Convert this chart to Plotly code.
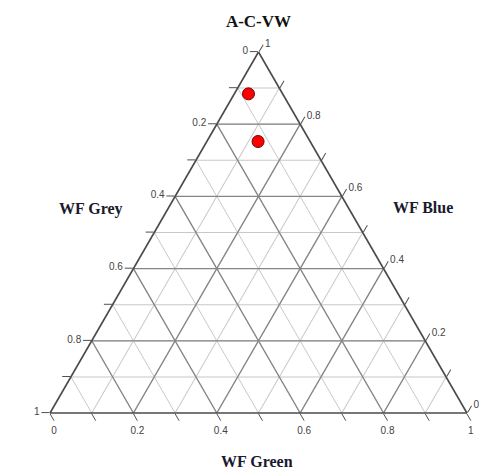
import plotly.graph_objects as go

# Data (fractions) - top vertex: WF Blue, bottom-left: WF Grey, bottom-right: WF Green
wf_blue = [0.884, 0.752]
wf_grey = [0.082, 0.125]
wf_green = [0.034, 0.123]

tick_vals = [round(i * 0.1, 1) for i in range(11)]
major_vals = [0.2, 0.4, 0.6, 0.8]


def fmt(v):
    v = round(v, 1)
    if v == 0:
        return "0"
    if v == 1:
        return "1"
    return "%.1f" % v


# Labels shown on each edge are the complementary component value (1 - axis value)
tick_text = [fmt(1 - v) if round(v * 10) % 2 == 0 else "" for v in tick_vals]

# Major grid lines (darker) as ternary line traces
ga, gb, gc = [], [], []
for v in major_vals:
    ga += [v, v, None, 1 - v, 0, None, 1 - v, 0, None]
    gb += [1 - v, 0, None, v, v, None, 0, 1 - v, None]
    gc += [0, 1 - v, None, 0, 1 - v, None, v, v, None]

fig = go.Figure()
fig.add_trace(go.Scatterternary(
    a=ga, b=gb, c=gc, mode="lines",
    line=dict(color="#858585", width=1.3),
    hoverinfo="skip", showlegend=False,
))
fig.add_trace(go.Scatterternary(
    a=wf_blue, b=wf_grey, c=wf_green, mode="markers",
    marker=dict(size=12, color="#ff0000", line=dict(color="#700000", width=1)),
    showlegend=False,
))

axis_common = dict(
    tickmode="array", tickvals=tick_vals, ticktext=tick_text,
    ticks="outside", ticklen=8, tickcolor="#505050", tickwidth=1.2,
    showgrid=True, gridcolor="#c8c8c8", gridwidth=1,
    showline=True, linecolor="#4a4a4a", linewidth=1.6,
    tickfont=dict(family="Liberation Sans, Arial, sans-serif", size=10, color="#444444"),
    title=dict(text=""), min=0,
)

label_font = dict(family="Liberation Serif, Times New Roman, serif", size=16, color="#1a1a2e")

fig.update_layout(
    width=496, height=462,
    margin=dict(l=0, r=0, t=0, b=0),
    paper_bgcolor="white",
    ternary=dict(
        sum=1,
        bgcolor="white",
        domain=dict(x=[0.06, 0.95], y=[0.1234, 0.9048]),
        aaxis=axis_common,
        baxis=axis_common,
        caxis=axis_common,
    ),
    title=dict(text="<b>A-C-VW</b>", x=0.505, xanchor="center", y=0.972, yanchor="middle",
               font=dict(family="Liberation Serif, Times New Roman, serif", size=17, color="#111111")),
    annotations=[
        dict(text="<b>WF Grey</b>", x=0.168, y=0.565, xref="paper", yref="paper",
             xanchor="center", yanchor="middle", showarrow=False, font=label_font),
        dict(text="<b>WF Blue</b>", x=0.837, y=0.568, xref="paper", yref="paper",
             xanchor="center", yanchor="middle", showarrow=False, font=label_font),
        dict(text="<b>WF Green</b>", x=0.503, y=0.018, xref="paper", yref="paper",
             xanchor="center", yanchor="middle", showarrow=False, font=label_font),
    ],
)

fig.write_html("out.html")
